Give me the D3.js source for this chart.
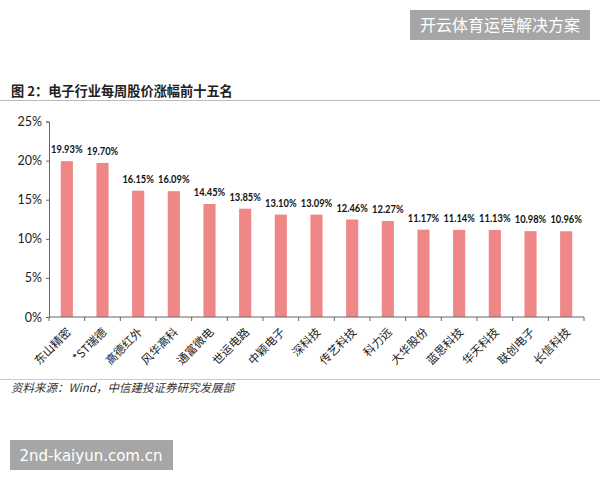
<!DOCTYPE html>
<html><head><meta charset="utf-8">
<script src="https://cdn.jsdelivr.net/npm/d3@7"></script>
<style>body{margin:0;background:#fff}svg{display:block}</style>
</head><body>
<svg id="c" width="600" height="480"></svg>
<script>
const categories = ["东山精密","*ST瑞德","高德红外","风华高科","通富微电","世运电路","中颖电子","深科技","传艺科技","科力远","大华股份","蓝思科技","华天科技","联创电子","长信科技"];
const values = [19.93,19.70,16.15,16.09,14.45,13.85,13.10,13.09,12.46,12.27,11.17,11.14,11.13,10.98,10.96];
const yTicks = [0,5,10,15,20,25];
const title = "图 2：电子行业每周股价涨幅前十五名";
const source = "资料来源：Wind，中信建投证券研究发展部";

const svg = d3.select("#c");
const font = "'Noto Sans CJK SC', 'Noto Sans', sans-serif";
const numFont = "Lato, sans-serif";
const m = {left:49, right:584, top:121.5, bottom:317};

const x = d3.scaleBand().domain(categories).range([m.left, m.right]).paddingInner(0.66).paddingOuter(0.33);
const y = d3.scaleLinear().domain([0,25]).range([m.bottom, m.top]);

// watermark top
svg.append("rect").attr("x",410).attr("y",10).attr("width",180).attr("height",30).attr("fill","#a6a6a6");
svg.append("text").attr("x",500).attr("y",31).attr("text-anchor","middle").attr("fill","#fff")
  .attr("font-family",font).attr("font-size",16).text("开云体育运营解决方案");

// title
svg.append("text").attr("x",11).attr("y",96).attr("font-family",font).attr("font-weight","bold")
  .attr("font-size",13.2).attr("fill","#222").text(title);
svg.append("line").attr("x1",0).attr("x2",600).attr("y1",100.5).attr("y2",100.5).attr("stroke","#bbb").attr("stroke-width",1.2);

// bars
svg.append("g").selectAll("rect").data(values).join("rect")
  .attr("x",(d,i)=>x(categories[i])).attr("width",x.bandwidth())
  .attr("y",d=>y(d)).attr("height",d=>y(0)-y(d)).attr("fill","#ef8787");

svg.append("g").selectAll("text").data(values).join("text")
  .attr("x",(d,i)=>x(categories[i])+x.bandwidth()/2).attr("y",d=>y(d)-8)
  .attr("text-anchor","middle").attr("font-family",numFont).attr("font-weight","bold")
  .attr("font-size",11.5).attr("fill","#111")
  .attr("textLength",31.5).attr("lengthAdjust","spacingAndGlyphs")
  .text(d=>d.toFixed(2)+"%");

// y axis
const ya = svg.append("g").attr("transform",`translate(${m.left},0)`)
  .call(d3.axisLeft(y).tickValues(yTicks).tickSize(3).tickPadding(4).tickFormat(d=>d+"%"));
ya.select(".domain").attr("stroke","#666");
ya.selectAll(".tick line").attr("stroke","#666");
ya.selectAll("text").attr("font-family",numFont).attr("font-size",12.5).attr("fill","#222");

// x axis
const xa = svg.append("g").attr("transform",`translate(0,${m.bottom})`);
xa.append("line").attr("x1",m.left).attr("x2",m.right).attr("stroke","#666");
xa.selectAll("line.t").data(d3.range(categories.length+1)).join("line").attr("class","t")
  .attr("x1",i=>m.left+i*(m.right-m.left)/categories.length).attr("x2",i=>m.left+i*(m.right-m.left)/categories.length)
  .attr("y1",0).attr("y2",4).attr("stroke","#666");
xa.selectAll("text").data(categories).join("text")
  .attr("transform",d=>`translate(${x(d)+x.bandwidth()/2+2},${13}) rotate(-45)`)
  .attr("text-anchor","end").attr("dy","0.35em").attr("font-family",font).attr("font-size",11.5).attr("fill","#222")
  .text(d=>d);

// source
svg.append("line").attr("x1",0).attr("x2",600).attr("y1",379.5).attr("y2",379.5).attr("stroke","#ccc").attr("stroke-width",1.2);
svg.append("text").attr("x",11).attr("y",392).attr("font-family","'Noto Sans CJK SC', serif").attr("font-style","italic")
  .attr("font-size",11.5).attr("fill","#333").text(source);

// watermark bottom
svg.append("rect").attr("x",10).attr("y",440).attr("width",163).attr("height",30).attr("fill","#a6a6a6");
svg.append("text").attr("x",91).attr("y",461).attr("text-anchor","middle").attr("fill","#fff")
  .attr("font-family","'DejaVu Sans', sans-serif").attr("font-size",15).text("2nd-kaiyun.com.cn");
</script>
</body></html>
